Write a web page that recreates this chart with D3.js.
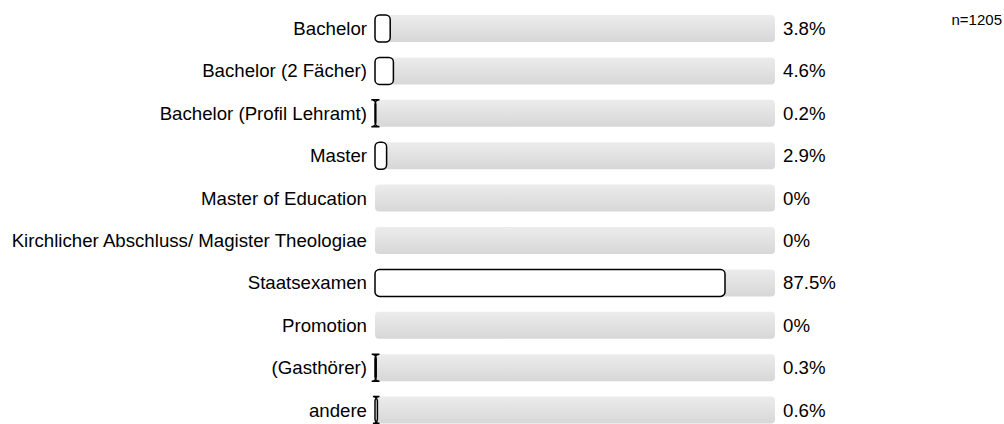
<!DOCTYPE html>
<html>
<head>
<meta charset="utf-8">
<script src="https://cdn.jsdelivr.net/npm/d3@7"></script>
<style>
  body { margin: 0; background: #fff; }
  text { font-family: "Liberation Sans", Arial, sans-serif; }
</style>
</head>
<body>
<svg id="Target" width="1004" height="424"></svg>
<script>
var categories = ["Bachelor", "Bachelor (2 Fächer)", "Bachelor (Profil Lehramt)", "Master",
    "Master of Education", "Kirchlicher Abschluss/ Magister Theologiae", "Staatsexamen",
    "Promotion", "(Gasthörer)", "andere"];
var values = [3.8, 4.6, 0.2, 2.9, 0, 0, 87.5, 0, 0.3, 0.6];
var valueLabels = ["3.8%", "4.6%", "0.2%", "2.9%", "0%", "0%", "87.5%", "0%", "0.3%", "0.6%"];
var sampleSize = "n=1205";

var svg = d3.select("#Target");

// gradient for background bars
var defs = svg.append("defs");
var grad = defs.append("linearGradient")
    .attr("id", "bgGrad")
    .attr("x1", 0).attr("y1", 0).attr("x2", 0).attr("y2", 1);
grad.append("stop").attr("offset", "0%").attr("stop-color", "#ececec");
grad.append("stop").attr("offset", "100%").attr("stop-color", "#d7d7d7");

var x = d3.scaleLinear().domain([0, 100]).range([375, 775]);
var y = d3.scaleBand().domain(categories).range([15, 423.6]).paddingInner(0.363).paddingOuter(0);

// rounded rect path, corners not clamped (gives the I-beam look on tiny bars)
var roundRect = function (x0, y0, w, h, r) {
    var p = d3.path();
    p.moveTo(x0 + r, y0);
    p.lineTo(x0 + w - r, y0);
    p.arcTo(x0 + w, y0, x0 + w, y0 + r, r);
    return "M" + (x0 + r) + "," + y0 +
        "H" + (x0 + w - r) +
        "A" + r + "," + r + " 0 0 1 " + (x0 + w) + "," + (y0 + r) +
        "V" + (y0 + h - r) +
        "A" + r + "," + r + " 0 0 1 " + (x0 + w - r) + "," + (y0 + h) +
        "H" + (x0 + r) +
        "A" + r + "," + r + " 0 0 1 " + x0 + "," + (y0 + h - r) +
        "V" + (y0 + r) +
        "A" + r + "," + r + " 0 0 1 " + (x0 + r) + "," + y0 + "Z";
};

var rows = svg.selectAll("g.row")
    .data(categories)
    .enter()
    .append("g")
    .attr("class", "row");

// grey track
rows.append("rect")
    .attr("x", x(0))
    .attr("y", function (d) { return y(d); })
    .attr("width", x(100) - x(0))
    .attr("height", y.bandwidth())
    .attr("rx", 4)
    .attr("fill", "url(#bgGrad)");

// value bars
rows.filter(function (d, i) { return values[i] > 0; })
    .append("path")
    .attr("d", function (d) {
        var w = x(values[categories.indexOf(d)]) - x(0);
        return roundRect(x(0), y(d), w, y.bandwidth(), 4.5);
    })
    .attr("fill", "#fff")
    .attr("stroke", "#000")
    .attr("stroke-width", 1.5);

// category labels
rows.append("text")
    .attr("x", 367)
    .attr("y", function (d) { return y(d) + y.bandwidth() / 2; })
    .attr("dy", "0.35em")
    .attr("text-anchor", "end")
    .attr("font-size", 18.67)
    .attr("fill", "#000")
    .text(function (d) { return d; });

// value labels
rows.append("text")
    .attr("x", 783)
    .attr("y", function (d) { return y(d) + y.bandwidth() / 2; })
    .attr("dy", "0.35em")
    .attr("font-size", 18.67)
    .attr("fill", "#000")
    .text(function (d, i) { return valueLabels[i]; });

svg.append("text")
    .attr("x", 1002)
    .attr("y", 25)
    .attr("text-anchor", "end")
    .attr("font-size", 15)
    .attr("fill", "#000")
    .text(sampleSize);
</script>
</body>
</html>
